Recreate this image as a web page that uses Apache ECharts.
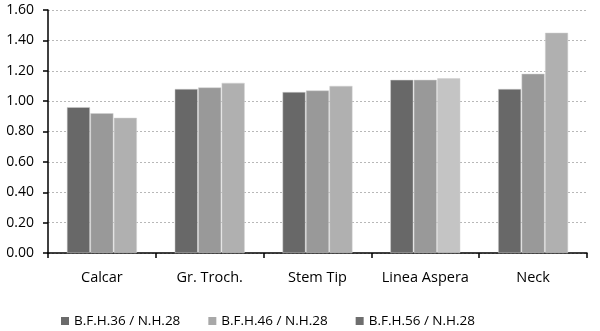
<!DOCTYPE html>
<html><head><meta charset="utf-8">
<script src="https://cdn.jsdelivr.net/npm/echarts@6/dist/echarts.min.js"></script>
<style>html,body{margin:0;padding:0;background:#fff}#c{width:600px;height:331px}</style>
</head><body><div id="c"></div>
<script>
var categories = ['Calcar', 'Gr. Troch.', 'Stem Tip', 'Linea Aspera', 'Neck'];
var seriesNames = ['B.F.H.36 / N.H.28', 'B.F.H.46 / N.H.28', 'B.F.H.56 / N.H.28'];
var bfh36 = [0.96, 1.08, 1.06, 1.14, 1.08];
var bfh46 = [0.92, 1.09, 1.07, 1.14, 1.18];
var bfh56 = [0.89, 1.12, 1.10, 1.15, 1.45];
var yTicks = [0, 0.2, 0.4, 0.6, 0.8, 1.0, 1.2, 1.4, 1.6];

var barColors = ['#686868', '#999999', '#b0b0b0'];
var legendColors = ['#6b6b6b', '#a8a8a8', '#6e6e6e'];
var font = 'Open Sans';

function mk(name, data, i) {
  return {
    name: name, type: 'bar', data: data, barWidth: 23, barGap: '2%',
    itemStyle: { color: barColors[i], borderColor: '#d0d0d0', borderWidth: 0.5 }
  };
}
var s3 = mk(seriesNames[2], bfh56.map(function (v, k) {
  return k === 3 ? { value: v, itemStyle: { color: '#c4c4c4' } } : v;
}), 2);

var chart = echarts.init(document.getElementById('c'), null, { renderer: 'canvas' });
chart.setOption({
  animation: false,
  textStyle: { fontFamily: font },
  grid: { left: 48, right: 13, top: 10, bottom: 78, containLabel: false },
  legend: {
    bottom: -2, left: 56, itemWidth: 8, itemHeight: 8, itemGap: 28,
    textStyle: { fontSize: 13.5, color: '#000', fontFamily: font },
    data: seriesNames.map(function (n, i) {
      return { name: n, icon: 'rect', itemStyle: { color: legendColors[i], borderWidth: 0 } };
    })
  },
  xAxis: {
    type: 'category', data: categories,
    axisLine: { lineStyle: { color: '#000', width: 1.5 } },
    axisTick: { show: true, interval: 0, length: 5, lineStyle: { color: '#000', width: 1.5 } },
    axisLabel: { color: '#000', fontSize: 14.5, margin: 17, interval: 0, hideOverlap: false, fontFamily: font }
  },
  yAxis: {
    type: 'value', min: yTicks[0], max: yTicks[yTicks.length - 1], interval: 0.2,
    axisLine: { show: true, lineStyle: { color: '#000', width: 1.5 } },
    axisTick: { show: true, length: 5, lineStyle: { color: '#000', width: 1.5 } },
    axisLabel: { color: '#000', fontSize: 14, margin: 14, fontFamily: font,
      formatter: function (v) { return v.toFixed(2); } },
    splitLine: { show: true, lineStyle: { color: '#b8b8b8', type: [2, 2], width: 1 } }
  },
  series: [mk(seriesNames[0], bfh36, 0), mk(seriesNames[1], bfh46, 1), s3]
});
</script></body></html>
